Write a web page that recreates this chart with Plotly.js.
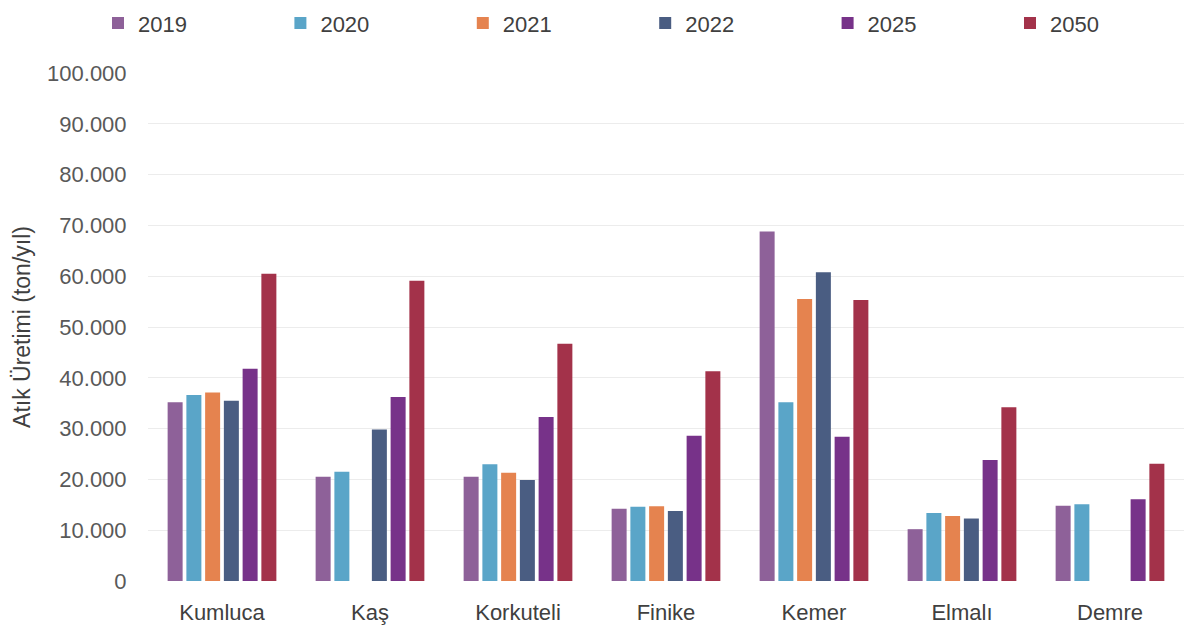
<!DOCTYPE html>
<html>
<head>
<meta charset="utf-8">
<script src="https://cdn.plot.ly/plotly-3.0.1.min.js"></script>
<style>html,body{margin:0;padding:0;background:#fff;}#chart{width:1184px;height:634px;}</style>
</head>
<body>
<div id="chart"></div>
<script>
const categories = ["Kumluca", "Kaş", "Korkuteli", "Finike", "Kemer", "Elmalı", "Demre"];
const seriesNames = ["2019", "2020", "2021", "2022", "2025", "2050"];
const s2019 = [35200, 20500, 20500, 14200, 68800, 10200, 14800];
const s2020 = [36600, 21500, 23000, 14600, 35200, 13400, 15100];
const s2021 = [37100, null, 21300, 14700, 55500, 12800, null];
const s2022 = [35500, 29800, 19900, 13800, 60800, 12300, null];
const s2025 = [41800, 36200, 32300, 28600, 28400, 23800, 16100];
const s2050 = [60500, 59100, 46700, 41300, 55300, 34200, 23100];
const yTickValues = [0, 10000, 20000, 30000, 40000, 50000, 60000, 70000, 80000, 90000, 100000];

const seriesValues = [s2019, s2020, s2021, s2022, s2025, s2050];
const colors = ["#8e6199", "#5aa5c8", "#e5834f", "#4a5d82", "#773289", "#a3324a"];
const legendIds = ["legend", "legend", "legend", "legend", "legend", "legend2"];

const traces = seriesNames.map((name, i) => ({
  type: "bar",
  name: name,
  x: categories,
  y: seriesValues[i],
  marker: { color: colors[i] },
  legend: legendIds[i],
  hoverinfo: "x+y+name"
}));

const font = "Liberation Sans, Arial, sans-serif";
const legendFont = { family: font, size: 22, color: "#404040" };
const step = 182.4;

const layout = {
  width: 1184,
  height: 634,
  margin: { l: 148, r: 0, t: 73, b: 53, autoexpand: false },
  paper_bgcolor: "#ffffff",
  plot_bgcolor: "#ffffff",
  separators: ",.",
  barmode: "group",
  bargap: 0.24,
  bargroupgap: 0.2,
  font: { family: font, size: 22, color: "#595959" },
  showlegend: true,
  legend: {
    orientation: "h",
    x: (98 - 148) / 1036,
    xanchor: "left",
    y: 1.098,
    yanchor: "middle",
    entrywidth: step - 45,
    entrywidthmode: "pixels",
    itemwidth: 30,
    font: legendFont,
    bgcolor: "rgba(0,0,0,0)",
    traceorder: "normal"
  },
  legend2: {
    orientation: "h",
    x: (98 + 5 * step - 148) / 1036,
    xanchor: "left",
    y: 1.098,
    yanchor: "middle",
    itemwidth: 30,
    font: legendFont,
    bgcolor: "rgba(0,0,0,0)"
  },
  xaxis: {
    type: "category",
    showgrid: false,
    zeroline: false,
    showline: false,
    ticks: "outside",
    ticklen: 12,
    tickcolor: "rgba(0,0,0,0)",
    tickfont: { family: font, size: 22, color: "#404040" },
    automargin: false
  },
  yaxis: {
    range: [0, 100000],
    tickvals: yTickValues,
    tickformat: ",d",
    showgrid: true,
    gridcolor: "#ececec",
    gridwidth: 1,
    zeroline: false,
    showline: false,
    ticks: "outside",
    ticklen: 16,
    tickcolor: "rgba(0,0,0,0)",
    tickfont: { family: font, size: 22, color: "#595959" },
    automargin: false,
    title: {
      text: "Atık Üretimi (ton/yıl)",
      font: { family: font, size: 23, color: "#404040" },
      standoff: 10
    }
  }
};

Plotly.newPlot("chart", traces, layout, { displayModeBar: false });
</script>
</body>
</html>
